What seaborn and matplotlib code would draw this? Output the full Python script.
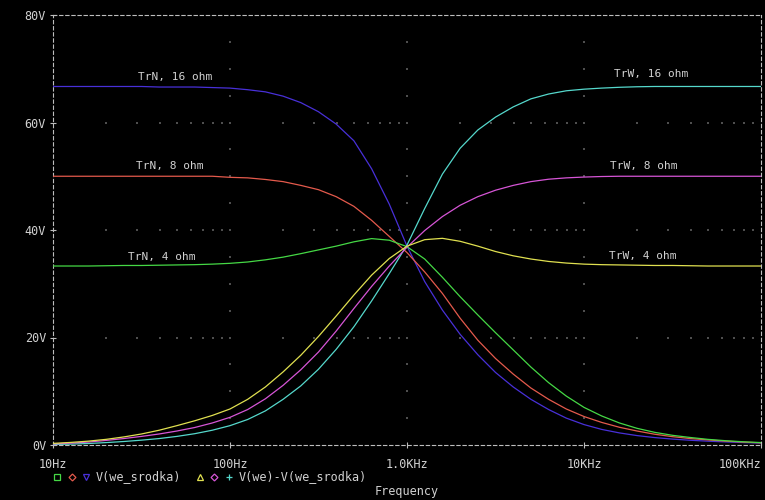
import numpy as np
import pandas as pd
import matplotlib
matplotlib.use("Agg")
import matplotlib.pyplot as plt
import seaborn as sns
from matplotlib.lines import Line2D

# ---------------- data ----------------
freq = [10, 12.59, 15.85, 19.95, 25.12, 31.62, 39.81, 50.12, 63.1, 79.43,
        100, 125.9, 158.5, 199.5, 251.2, 316.2, 398.1, 501.2, 631, 794.3,
        1000, 1259, 1585, 1995, 2512, 3162, 3981, 5012, 6310, 7943,
        10000, 12590, 15850, 19950, 25120, 31620, 39810, 50120, 63100, 79430, 100000]

trn_16 = [66.7, 66.7, 66.7, 66.7, 66.7, 66.7, 66.6, 66.6, 66.6, 66.5,
          66.4, 66.1, 65.7, 64.9, 63.7, 62.0, 59.7, 56.6, 51.4, 44.8,
          37.0, 30.4, 25.1, 20.6, 16.8, 13.5, 10.8, 8.5, 6.6, 5.0,
          3.8, 2.9, 2.25, 1.75, 1.38, 1.1, 0.88, 0.71, 0.57, 0.45, 0.35]
trn_8 = [50.0, 50.0, 50.0, 50.0, 50.0, 50.0, 50.0, 50.0, 50.0, 50.0,
         49.8, 49.7, 49.4, 49.0, 48.3, 47.5, 46.2, 44.4, 41.8, 38.8,
         35.8, 32.2, 28.2, 23.6, 19.5, 16.1, 13.2, 10.6, 8.5, 6.7,
         5.3, 4.2, 3.3, 2.6, 2.0, 1.55, 1.2, 0.95, 0.72, 0.55, 0.4]
trn_4 = [33.3, 33.3, 33.3, 33.35, 33.4, 33.4, 33.45, 33.5, 33.55, 33.65,
         33.8, 34.05, 34.45, 34.95, 35.6, 36.3, 37.0, 37.8, 38.4, 38.1,
         36.9, 34.6, 31.2, 27.6, 24.2, 20.9, 17.7, 14.5, 11.6, 9.1,
         7.0, 5.4, 4.1, 3.1, 2.35, 1.8, 1.4, 1.05, 0.8, 0.6, 0.45]
trw_16 = [0.1, 0.17, 0.28, 0.45, 0.65, 0.9, 1.2, 1.6, 2.1, 2.75,
          3.6, 4.75, 6.35, 8.5, 11.0, 14.1, 17.8, 22.0, 26.8, 31.9,
          37.2, 44.0, 50.4, 55.2, 58.6, 61.0, 62.9, 64.4, 65.3, 65.9,
          66.2, 66.4, 66.55, 66.65, 66.7, 66.7, 66.7, 66.7, 66.7, 66.7, 66.7]
trw_8 = [0.2, 0.35, 0.55, 0.85, 1.2, 1.6, 2.05, 2.6, 3.25, 4.1,
         5.15, 6.6, 8.6, 11.1, 14.0, 17.3, 21.2, 25.4, 29.5, 33.3,
         36.8, 39.9, 42.5, 44.6, 46.2, 47.4, 48.3, 49.0, 49.45, 49.7,
         49.85, 49.95, 50.0, 50.0, 50.0, 50.0, 50.0, 50.0, 50.0, 50.0, 50.0]
trw_4 = [0.3, 0.48, 0.72, 1.05, 1.5, 2.05, 2.75, 3.6, 4.5, 5.5,
         6.7, 8.5, 10.8, 13.6, 16.7, 20.2, 24.0, 27.9, 31.6, 34.7,
         37.0, 38.2, 38.45, 37.9, 37.0, 36.0, 35.2, 34.6, 34.15, 33.85,
         33.65, 33.55, 33.5, 33.45, 33.4, 33.4, 33.35, 33.3, 33.3, 33.3, 33.3]

series_names = ["TrN, 16 ohm", "TrN, 8 ohm", "TrN, 4 ohm", "TrW, 16 ohm", "TrW, 8 ohm", "TrW, 4 ohm"]
series_values = [trn_16, trn_8, trn_4, trw_16, trw_8, trw_4]

x_ticks = [10, 100, 1000, 10000, 100000]
x_tick_labels = ["10Hz", "100Hz", "1.0KHz", "10KHz", "100KHz"]
y_ticks = [0, 20, 40, 60, 80]
y_tick_labels = ["0V", "20V", "40V", "60V", "80V"]

legend_text_1 = "V(we_srodka)"
legend_text_2 = "V(we)-V(we_srodka)"
x_title = "Frequency"

# ---------------- styling ----------------
colors = {
    "TrN, 16 ohm": "#4830d8",
    "TrN, 8 ohm": "#e45a4c",
    "TrN, 4 ohm": "#45d845",
    "TrW, 16 ohm": "#55d8cc",
    "TrW, 8 ohm": "#d655d6",
    "TrW, 4 ohm": "#e0e050",
}
label_pos = {
    "TrN, 16 ohm": (48.9, 68.5),
    "TrN, 8 ohm": (45.8, 52.0),
    "TrN, 4 ohm": (41.3, 34.9),
    "TrW, 16 ohm": (23900, 69.0),
    "TrW, 8 ohm": (21800, 52.0),
    "TrW, 4 ohm": (21500, 35.1),
}
txt_color = "#d2d2d2"
axis_color = "#bdbdbd"
mono = ["DejaVu Sans Mono"]

rows = []
for name, vals in zip(series_names, series_values):
    for f, v in zip(freq, vals):
        rows.append({"freq": f, "volt": v, "trace": name})
df = pd.DataFrame(rows)

fig = plt.figure(figsize=(7.65, 5.0), dpi=100, facecolor="black")
ax = fig.add_axes([53 / 765, 55 / 500, (761 - 53) / 765, 430 / 500])
ax.set_facecolor("black")
ax.set_xscale("log")
ax.set_xlim(10, 100000)
ax.set_ylim(0, 80)

# faint dotted grid (PSpice style)
gx, gy = [], []
for d in [10, 100, 1000, 10000]:
    for k in range(1, 10):
        xv = d * k
        if xv <= 10:
            continue
        for yv in [20, 40, 60]:
            gx.append(xv); gy.append(yv)
for xv in [100, 1000, 10000]:
    for yv in range(5, 80, 5):
        if yv % 20:
            gx.append(xv); gy.append(yv)
ax.scatter(gx, gy, s=1.0, marker="s", color="#4e4e4e", linewidths=0, zorder=1)

sns.lineplot(data=df, x="freq", y="volt", hue="trace", palette=colors,
             hue_order=series_names, legend=False, ax=ax, linewidth=0.9,
             sort=False, estimator=None, zorder=3)

for name in series_names:
    xv, yv = label_pos[name]
    ax.text(xv, yv, name, color=txt_color, fontsize=8, family=mono,
            ha="center", va="center", zorder=4)

for s in ["top", "bottom", "left", "right"]:
    ax.spines[s].set_color(axis_color)
    ax.spines[s].set_linestyle((0, (3, 2.5)))
    ax.spines[s].set_linewidth(0.8)

ax.set_xticks(x_ticks)
ax.set_xticklabels(x_tick_labels)
ax.set_yticks(y_ticks)
ax.set_yticklabels(y_tick_labels)
ax.xaxis.set_minor_locator(matplotlib.ticker.NullLocator())
ax.tick_params(axis="both", colors=axis_color, labelcolor=txt_color, labelsize=8.5,
               direction="inout", length=4, width=0.8)
ax.tick_params(axis="x", pad=7)
ax.tick_params(axis="y", pad=3)
for lab in ax.get_xticklabels() + ax.get_yticklabels():
    lab.set_family(mono)
ax.get_xticklabels()[-1].set_horizontalalignment("right")
ax.set_xlabel("")
ax.set_ylabel("")

# legend row
ly = 1 - 477 / 500
legend_markers = [
    (57, "s", colors["TrN, 4 ohm"]),
    (72, "D", colors["TrN, 8 ohm"]),
    (86, "v", colors["TrN, 16 ohm"]),
    (200, "^", colors["TrW, 4 ohm"]),
    (214, "D", colors["TrW, 8 ohm"]),
    (229, "+", colors["TrW, 16 ohm"]),
]
for px, m, c in legend_markers:
    ms = 3.5 if m == "D" else 4.5
    fig.add_artist(Line2D([px / 765], [ly], marker=m, markersize=ms,
                          markerfacecolor="none", markeredgecolor=c,
                          markeredgewidth=0.9, linestyle="none",
                          transform=fig.transFigure))
fig.text(96 / 765, ly, legend_text_1, color=txt_color, fontsize=8.5, family=mono,
         ha="left", va="center")
fig.text(239 / 765, ly, legend_text_2, color=txt_color, fontsize=8.5, family=mono,
         ha="left", va="center")
fig.text(407 / 765, 1 - 492 / 500, x_title, color=txt_color, fontsize=8.5, family=mono,
         ha="center", va="center")

fig.savefig("out.png", dpi=100, facecolor="black")
